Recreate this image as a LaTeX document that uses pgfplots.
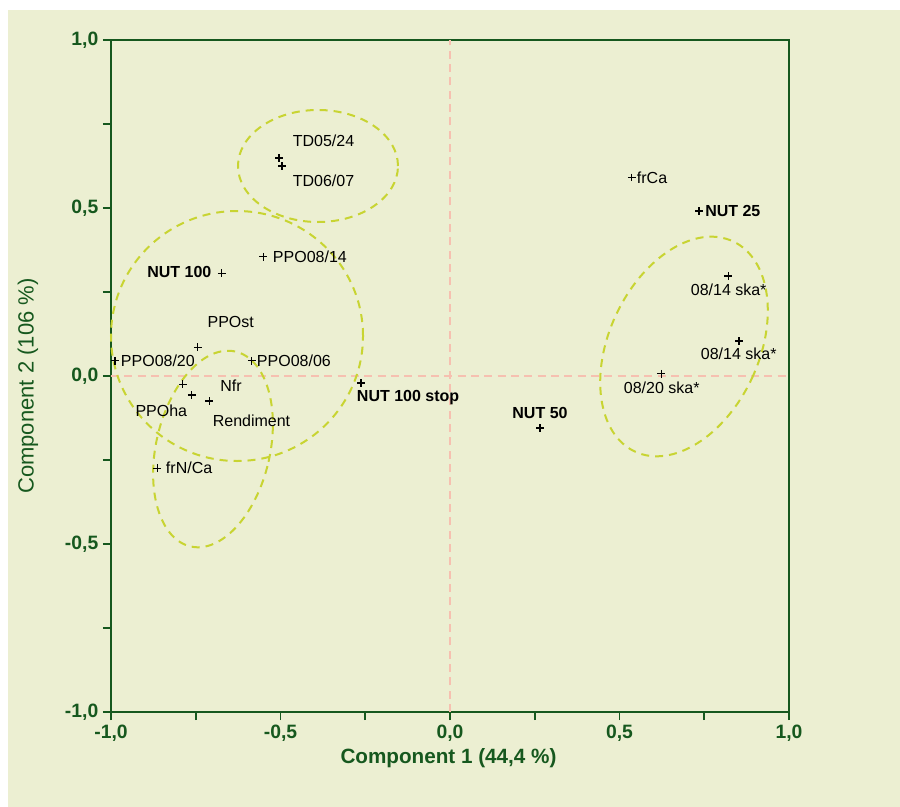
\documentclass[border=0pt]{standalone}
\usepackage{pgfplots}
\pgfplotsset{compat=1.18}
\usepackage{fontspec}
\setmainfont{Liberation Sans}
\definecolor{bg}{RGB}{236,239,210}
\definecolor{dkgreen}{RGB}{22,88,30}
\definecolor{ellc}{RGB}{200,212,50}
\definecolor{zeroc}{RGB}{246,192,176}
\tikzset{
  lab/.style={font=\fontsize{12}{14}\selectfont, inner sep=0pt, text height=8.6pt, text depth=0pt, black},
  blab/.style={lab, font=\fontsize{12}{14}\selectfont\bfseries},
  ell/.style={ellc, line width=1.5pt, dash pattern=on 6pt off 4.5pt},
}
\begin{document}
\begin{tikzpicture}
\path[use as bounding box, fill=white] (-83.25pt,-71.25pt) rectangle (591.75pt,534pt);
\fill[bg] (-77.25pt,-71.25pt) rectangle (591.75pt,526.5pt);
\begin{axis}[
  scale only axis, width=508.5pt, height=504pt,
  xmin=-1, xmax=1, ymin=-1, ymax=1,
  clip=false,
  axis line style={dkgreen, line width=1.5pt},
  xtick={-1,-0.5,0,0.5,1},
  xticklabels={{-1,0},{-0,5},{0,0},{0,5},{1,0}},
  minor xtick={-0.75,-0.25,0.25,0.75},
  ytick={-1,-0.5,0,0.5,1},
  yticklabels={{-1,0},{-0,5},{0,0},{0,5},{1,0}},
  minor ytick={-0.75,-0.25,0.25,0.75},
  xtick pos=bottom, ytick pos=left,
  tick align=outside,
  major tick length=6pt, minor tick length=6pt,
  every tick/.style={dkgreen, line width=1.4pt},
  tick label style={dkgreen, font=\fontsize{14.5}{16}\selectfont\bfseries},
  xlabel={Component 1 (44,4 \%)},
  ylabel={Component 2 (106 \%)},
  xlabel style={at={(axis description cs:0.4978,-0.0685)}, anchor=center, dkgreen, font=\fontsize{15.5}{17}\selectfont\bfseries},
  ylabel style={at={(axis description cs:-0.1224,0.485)}, anchor=center, dkgreen, font=\fontsize{16.5}{18}\selectfont},
]
\draw[zeroc, line width=1.1pt, dash pattern=on 6pt off 4pt] (axis cs:0,-1) -- (axis cs:0,1);
\draw[zeroc, line width=1.1pt, dash pattern=on 6pt off 4pt] (axis cs:-1,0) -- (axis cs:1,0);

\draw[ell] (axis cs:-0.3894,0.625) ellipse [x radius=0.236, y radius=0.1667];
\draw[ell] (axis cs:-0.6283,0.119) ellipse [x radius=0.3717, y radius=0.372];
\draw[ell, rotate around={-13:(axis cs:-0.6991,-0.2173)}] (axis cs:-0.6991,-0.2173) ellipse [x radius=0.168, y radius=0.2976];
\draw[ell, rotate around={-25:(axis cs:0.6903,0.0878)}] (axis cs:0.6903,0.0878) ellipse [x radius=0.2212, y radius=0.3452];

\addplot[only marks, mark=+, mark size=2.9pt, black, mark options={line width=1.05pt}] coordinates {
(-0.5044,0.6488) (-0.4956,0.6250) (0.536,0.591) (0.7345,0.491)
(0.821,0.2976) (0.8525,0.1042) (0.6233,0.0068) (-0.2625,-0.0208)
(0.2655,-0.1548) (-0.6735,0.3057) (-0.5507,0.3551) (-0.7442,0.0854)
(-0.9882,0.0455) (-0.585,0.0455) (-0.7885,-0.0247) (-0.762,-0.0565)
(-0.710,-0.0744) (-0.8634,-0.2747)
};

\node[lab] at (axis cs:-0.3732,0.6994) {TD05/24};
\node[lab] at (axis cs:-0.3732,0.5804) {TD06/07};
\node[lab, anchor=west] at (axis cs:0.5507,0.5905) {frCa};
\node[blab, anchor=west] at (axis cs:0.7522,0.491) {NUT 25};
\node[lab] at (axis cs:0.8221,0.2574) {08/14 ska*};
\node[lab] at (axis cs:0.8516,0.0655) {08/14 ska*};
\node[lab] at (axis cs:0.6245,-0.0357) {08/20 ska*};
\node[blab, anchor=west] at (axis cs:-0.2752,-0.0595) {NUT 100 stop};
\node[blab] at (axis cs:0.2655,-0.1101) {NUT 50};
\node[blab, anchor=east] at (axis cs:-0.703,0.3095) {NUT 100};
\node[lab, anchor=west] at (axis cs:-0.523,0.3557) {PPO08/14};
\node[lab] at (axis cs:-0.6469,0.1607) {PPOst};
\node[lab, anchor=west] at (axis cs:-0.9714,0.0461) {PPO08/20};
\node[lab, anchor=west] at (axis cs:-0.5702,0.0461) {PPO08/06};
\node[lab] at (axis cs:-0.646,-0.0283) {Nfr};
\node[lab] at (axis cs:-0.8516,-0.1027) {PPOha};
\node[lab] at (axis cs:-0.5855,-0.1324) {Rendiment};
\node[lab, anchor=west] at (axis cs:-0.8386,-0.2723) {frN/Ca};
\end{axis}
\end{tikzpicture}
\end{document}
